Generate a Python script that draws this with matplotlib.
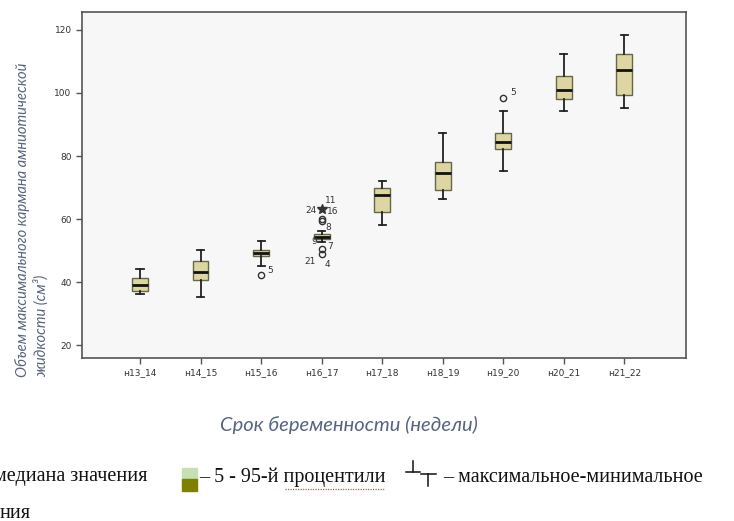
import matplotlib.pyplot as plt
from matplotlib.patches import Rectangle
from matplotlib.lines import Line2D

# срок беременности, группы
weeks = ['н13_14', 'н14_15', 'н15_16', 'н16_17', 'н17_18',
         'н18_19', 'н19_20', 'н20_21', 'н21_22']
w_lo = [36.2, 35.2, 45.2, 52.6, 58.2, 66.3, 75.2, 94.4, 95.2]
q1 = [37.1, 40.6, 48.3, 53.7, 62.2, 69.2, 82.2, 98.2, 99.4]
med = [39.0, 43.2, 49.3, 54.4, 67.6, 74.7, 84.4, 100.9, 107.3]
q3 = [41.2, 46.7, 50.2, 55.1, 69.7, 78.2, 87.2, 105.4, 112.4]
w_hi = [44.1, 50.2, 53.1, 56.2, 72.2, 87.2, 94.3, 112.4, 118.3]

# выбросы (o) и экстремальные значения (*)
out_pos = [3, 4, 4, 4, 4, 7]
out_val = [42.2, 60.1, 59.3, 50.5, 48.8, 98.3]
ext_pos = [4]
ext_val = [63.2]

# номера наблюдений
lab_txt = ['5', '24', '11', '16', '8', '9', '7', '21', '4', '5']
lab_pos = [3, 4, 4, 4, 4, 4, 4, 4, 4, 7]
lab_val = [42.2, 63.2, 63.2, 63.2, 59.7, 50.5, 50.5, 48.8, 48.8, 98.3]
lab_dx = [9, -11, 9, 11, 7, -7, 8, -12, 6, 10]
lab_dy = [5, -2, 8, -3, -8, 7, 2, -7, -10, 6]

W, H = 734, 521
fig = plt.figure(figsize=(W / 100, H / 100), dpi=100)
ax = fig.add_axes([82 / W, 1 - 358 / H, (686 - 82) / W, (358 - 12) / H])
ax.set_facecolor('#f7f7f7')

stats = []
for i in range(len(weeks)):
    stats.append(dict(med=med[i], q1=q1[i], q3=q3[i],
                      whislo=w_lo[i], whishi=w_hi[i], fliers=[]))
pos = list(range(1, len(weeks) + 1))
ax.bxp(stats, positions=pos, widths=0.26, patch_artist=True, showfliers=False,
       boxprops=dict(facecolor='#ddd6a2', edgecolor='#66664a', linewidth=1.0),
       medianprops=dict(color='#111111', linewidth=2.0),
       whiskerprops=dict(color='#222222', linewidth=1.3),
       capprops=dict(color='#222222', linewidth=1.3), capwidths=0.12)

ax.plot(out_pos, out_val, 'o', ms=4.5, mfc='none', mec='#333333', mew=1.0)
ax.plot(ext_pos, ext_val, '*', ms=7, color='#333333')
for t, p, v, dx, dy in zip(lab_txt, lab_pos, lab_val, lab_dx, lab_dy):
    ax.annotate(t, (p, v), xytext=(dx, dy), textcoords='offset pixels',
                ha='center', va='center', fontsize=6.5, color='#333333')

ax.set_xlim(0.04, 10.02)
ax.set_ylim(15.9, 125.7)
ax.set_xticks(pos)
ax.set_xticklabels(weeks)
ax.set_yticks(range(20, 121, 20))
ax.tick_params(labelsize=6.5, length=4, width=1, color='#555555', labelcolor='#333333')
for s in ax.spines.values():
    s.set_color('#555555')
    s.set_linewidth(1.2)

blue = '#56647e'
fig.text(23 / W, 1 - 377 / H, 'Объем максимального кармана амниотической',
         rotation=90, rotation_mode='anchor', ha='left', va='center',
         fontsize=10.6, style='italic', family='Lato', color=blue)
fig.text(41 / W, 1 - 377 / H, 'жидкости (см³)',
         rotation=90, rotation_mode='anchor', ha='left', va='center',
         fontsize=10.6, style='italic', family='Lato', color=blue)
fig.text(349 / W, 1 - 425 / H, 'Срок беременности (недели)', ha='center', va='center',
         fontsize=14.5, style='italic', family='Lato', color=blue)

# легенда снизу
ser = dict(family='Liberation Serif', fontsize=14.5, color='#111111', va='center')
fig.text(148 / W, 1 - 477 / H, 'медиана значения', ha='right', **ser)
fig.patches.append(Rectangle((182 / W, 1 - 479 / H), 15 / W, 11.5 / H,
                             transform=fig.transFigure, color='#c6e0b4'))
fig.patches.append(Rectangle((182 / W, 1 - 491 / H), 15 / W, 12 / H,
                             transform=fig.transFigure, color='#7f7f00'))
fig.text(199 / W, 1 - 477 / H, '– 5 - 95-й процентили', ha='left', **ser)
fig.lines.append(Line2D([285 / W, 385 / W], [1 - 489 / H, 1 - 489 / H],
                        transform=fig.transFigure, color='#e05050',
                        lw=0.9, ls=(0, (1, 1))))
k = dict(transform=fig.transFigure, color='#111111', lw=1.1)
fig.lines.append(Line2D([413 / W, 413 / W], [1 - 461 / H, 1 - 472 / H], **k))
fig.lines.append(Line2D([406 / W, 420 / W], [1 - 472 / H, 1 - 472 / H], **k))
fig.lines.append(Line2D([421 / W, 436 / W], [1 - 474 / H, 1 - 474 / H], **k))
fig.lines.append(Line2D([428 / W, 428 / W], [1 - 474 / H, 1 - 486 / H], **k))
fig.text(443 / W, 1 - 477 / H, '– максимальное-минимальное', ha='left', **ser)
fig.text(0, 1 - 513 / H, 'ния', ha='left', **ser)

fig.savefig('out.png', dpi=100)
